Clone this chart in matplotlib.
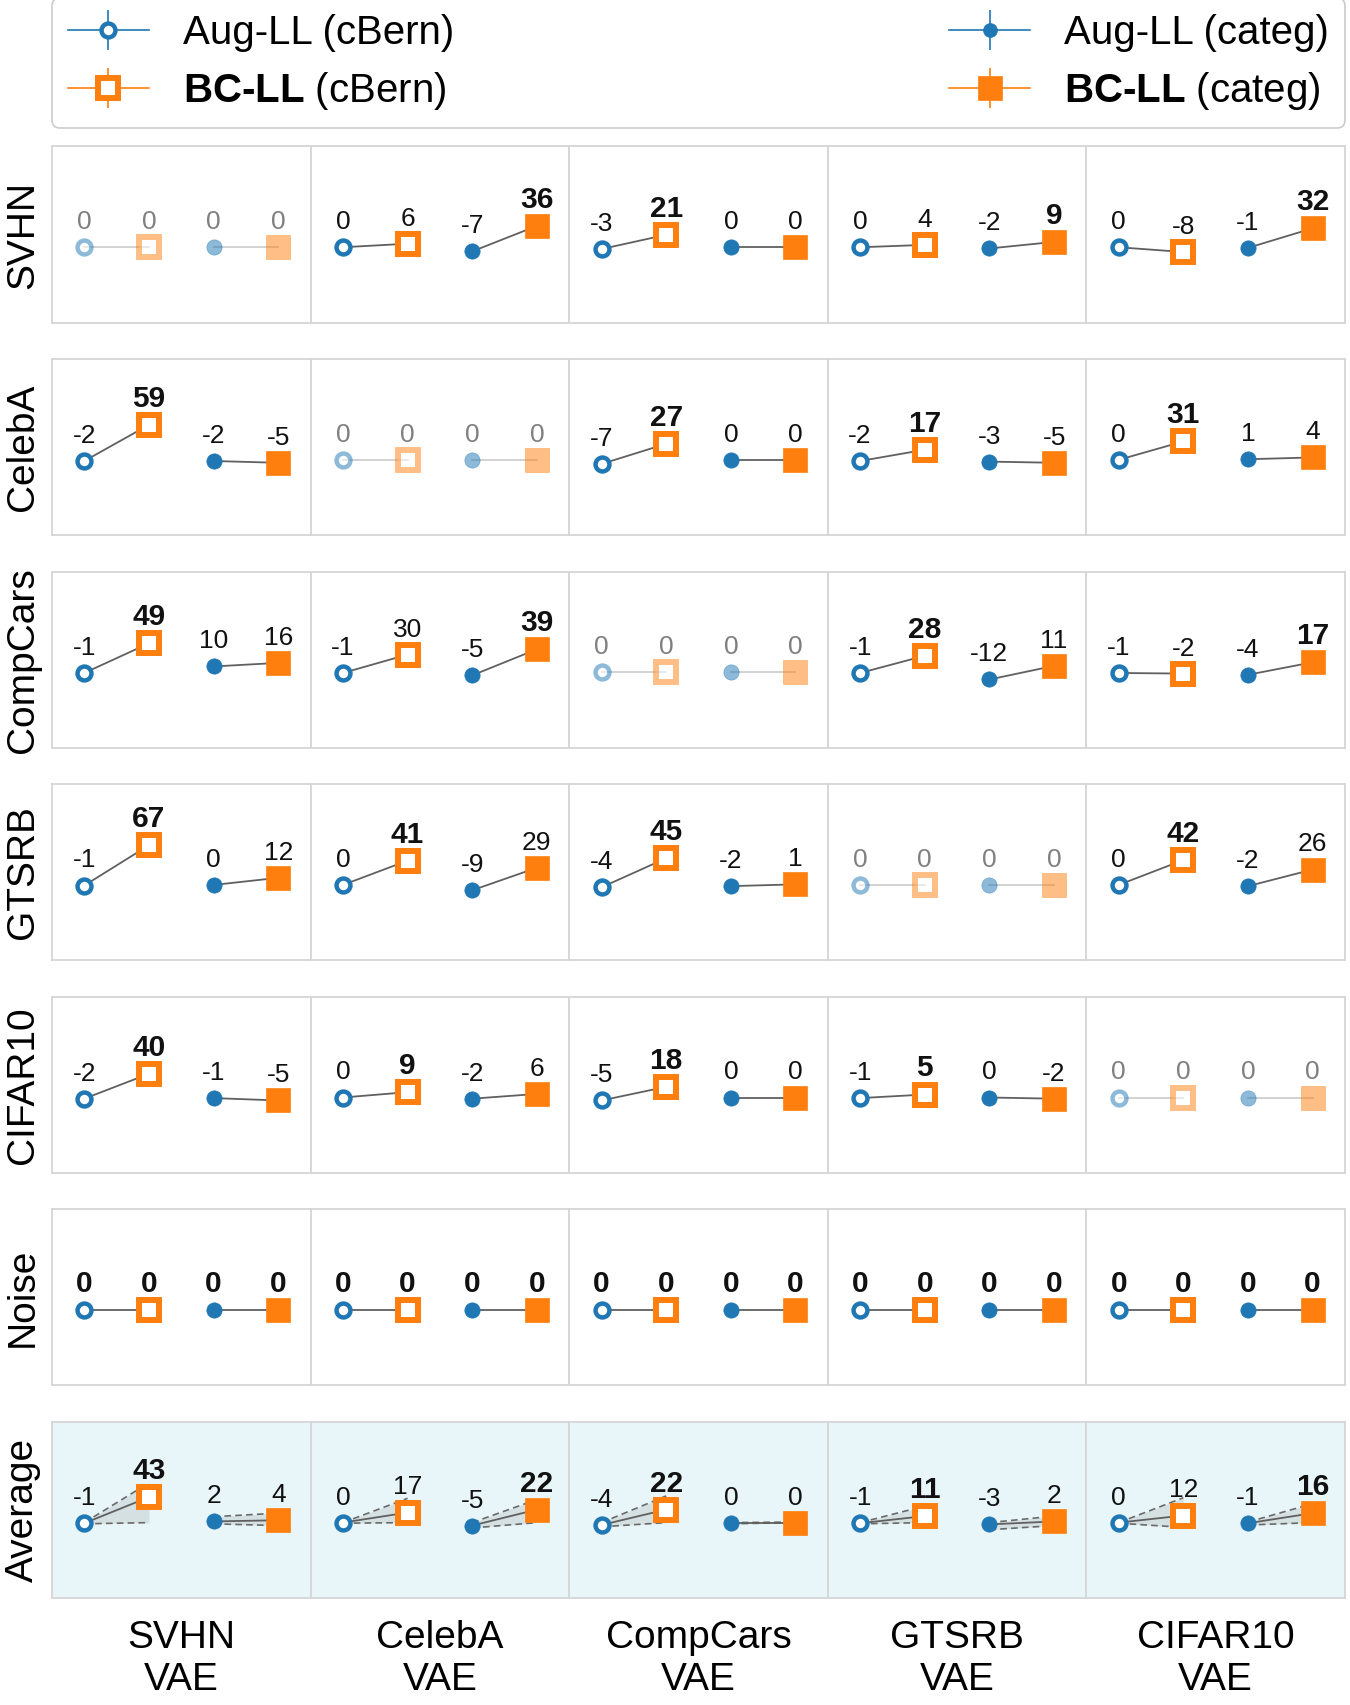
import numpy as np
import matplotlib
matplotlib.use('Agg')
import matplotlib.pyplot as plt

plt.rcParams['font.family'] = ['Liberation Sans', 'DejaVu Sans']
plt.rcParams['mathtext.fontset'] = 'custom'
plt.rcParams['mathtext.rm'] = 'Liberation Sans'
plt.rcParams['mathtext.bf'] = 'Liberation Sans:bold'

# test sets (rows) and trained models (columns)
rows = ['SVHN', 'CelebA', 'CompCars', 'GTSRB', 'CIFAR10', 'Noise']
cols = ['SVHN', 'CelebA', 'CompCars', 'GTSRB', 'CIFAR10']

# values in each cell, one list per row (columns as above)
aug_cbern = [
    [0, 0, -3, 0, 0],
    [-2, 0, -7, -2, 0],
    [-1, -1, 0, -1, -1],
    [-1, 0, -4, 0, 0],
    [-2, 0, -5, -1, 0],
    [0, 0, 0, 0, 0],
]
bc_cbern = [
    [0, 6, 21, 4, -8],
    [59, 0, 27, 17, 31],
    [49, 30, 0, 28, -2],
    [67, 41, 45, 0, 42],
    [40, 9, 18, 5, 0],
    [0, 0, 0, 0, 0],
]
aug_categ = [
    [0, -7, 0, -2, -1],
    [-2, 0, 0, -3, 1],
    [10, -5, 0, -12, -4],
    [0, -9, -2, 0, -2],
    [-1, -2, 0, 0, 0],
    [0, 0, 0, 0, 0],
]
bc_categ = [
    [0, 36, 0, 9, 32],
    [-5, 0, 0, -5, 4],
    [16, 39, 0, 11, 17],
    [12, 29, 1, 0, 26],
    [-5, 6, 0, -2, 0],
    [0, 0, 0, 0, 0],
]

# "Average" row as printed
avg_aug_cbern = [-1, 0, -4, -1, 0]
avg_bc_cbern = [43, 17, 22, 11, 12]
avg_aug_categ = [2, -5, 0, -3, -1]
avg_bc_categ = [4, 22, 0, 2, 16]

blue = '#1f77b4'
orange = '#ff7f0e'
line_c = '#606060'
spine_c = '#d6d6d6'
avg_bg = '#e8f6f9'

styles = [
    dict(marker='o', ms=10, mfc='white', mec=blue, mew=3.2),
    dict(marker='s', ms=15, mfc='white', mec=orange, mew=4.3),
    dict(marker='o', ms=11, mfc=blue, mec=blue, mew=0.5),
    dict(marker='s', ms=17.5, mfc=orange, mec=orange, mew=0.5),
]

fig = plt.figure(figsize=(13.5, 17.05), dpi=100)
gs = fig.add_gridspec(7, 5, left=0.0385, right=0.9963, top=0.9141,
                      bottom=0.0628, hspace=0.207, wspace=0)


def draw_cell(ax, vals, faded=False, band=None):
    xs = [0, 1, 2, 3]
    best = max(vals)
    if band is not None:
        lo, hi = band
        for a, b in [(0, 1), (2, 3)]:
            ax.fill_between([a, b], [lo[a], lo[b]], [hi[a], hi[b]],
                            color='#808080', alpha=0.18, lw=0, zorder=1)
            ax.plot([a, b], [lo[a], lo[b]], ls=(0, (4, 2.5)), color='#6a6a6a',
                    lw=1.2, zorder=1.5)
            ax.plot([a, b], [hi[a], hi[b]], ls=(0, (4, 2.5)), color='#6a6a6a',
                    lw=1.2, zorder=1.5)
    for a, b in [(0, 1), (2, 3)]:
        ax.plot([a, b], [vals[a], vals[b]], color='#cfcfcf' if faded else line_c,
                lw=1.3, zorder=2)
    for x, v, st in zip(xs, vals, styles):
        ax.plot([x], [v], ls='none', alpha=0.5 if faded else 1.0, zorder=3, **st)
        if faded:
            kw = dict(fontsize=19, color='#808080')
        elif v == best:
            kw = dict(fontsize=21.5, fontweight='bold', color='#111111')
        else:
            kw = dict(fontsize=19, color='#111111')
        ax.annotate(str(v), (x, v), xytext=(0, 13), textcoords='offset points',
                    ha='center', va='baseline', zorder=4, **kw)


axes = []
for r in range(7):
    for c in range(5):
        ax = fig.add_subplot(gs[r, c])
        ax.set_xlim(-0.5, 3.5)
        ax.set_ylim(-127, 170)
        ax.set_xticks([])
        ax.set_yticks([])
        for sp in ax.spines.values():
            sp.set_color(spine_c)
            sp.set_linewidth(1.3)
        if r < 6:
            vals = [aug_cbern[r][c], bc_cbern[r][c], aug_categ[r][c], bc_categ[r][c]]
            faded = rows[r] == cols[c]
            draw_cell(ax, vals, faded=faded)
        else:
            ax.set_facecolor(avg_bg)
            vals = [avg_aug_cbern[c], avg_bc_cbern[c], avg_aug_categ[c], avg_bc_categ[c]]
            # spread over the non in-distribution test sets
            keep = [i for i in range(6) if rows[i] != cols[c]]
            series = [aug_cbern, bc_cbern, aug_categ, bc_categ]
            lo = [min(s[i][c] for i in keep) for s in series]
            hi = [max(s[i][c] for i in keep) for s in series]
            draw_cell(ax, vals, band=(lo, hi))
        if c == 0:
            pos = ax.get_position()
            fig.text(22.8 / 1350, (pos.y0 + pos.y1) / 2,
                     rows[r] if r < 6 else 'Average',
                     rotation=90, ha='center', va='center', fontsize=28)
        if r == 6:
            pos = ax.get_position()
            fig.text((pos.x0 + pos.x1) / 2, 0.0499, cols[c] + '\nVAE',
                     ha='center', va='top', fontsize=28, linespacing=1.2)
        axes.append(ax)

# legend proxies (errorbar style handles)
hax = fig.add_axes([0, 0, 0.01, 0.01])
h1 = hax.errorbar([0], [0], yerr=[1], fmt='-o', color=blue, mfc='white', mec=blue,
                  ms=10, mew=3.2, lw=1.2, elinewidth=1.2)
h2 = hax.errorbar([0], [0], yerr=[1], fmt='-s', color=orange, mfc='white', mec=orange,
                  ms=15, mew=4.3, lw=1.2, elinewidth=1.2)
h3 = hax.errorbar([0], [0], yerr=[1], fmt='-o', color=blue, mfc=blue, mec=blue,
                  ms=10, mew=0.5, lw=1.2, elinewidth=1.2)
h4 = hax.errorbar([0], [0], yerr=[1], fmt='-s', color=orange, mfc=orange, mec=orange,
                  ms=17, mew=0.5, lw=1.2, elinewidth=1.2)
hax.set_visible(False)

labels = ['Aug-LL (cBern)', r'$\mathbf{BC‐LL}$ (cBern)',
          'Aug-LL (categ)', r'$\mathbf{BC‐LL}$ (categ)']
leg = fig.legend([h1, h2, h3, h4], labels, ncol=2, mode='expand',
                 loc='lower left', bbox_to_anchor=(0.0385, 1 - 128 / 1705, 0.9578, 0.05),
                 fontsize=29, handlelength=2.0, handletextpad=0.85,
                 labelspacing=0.45, borderpad=0.4, borderaxespad=0,
                 frameon=True, fancybox=True, edgecolor='#cccccc', framealpha=1)
leg.get_frame().set_linewidth(1.2)

fig.savefig('out.png', dpi=100)
